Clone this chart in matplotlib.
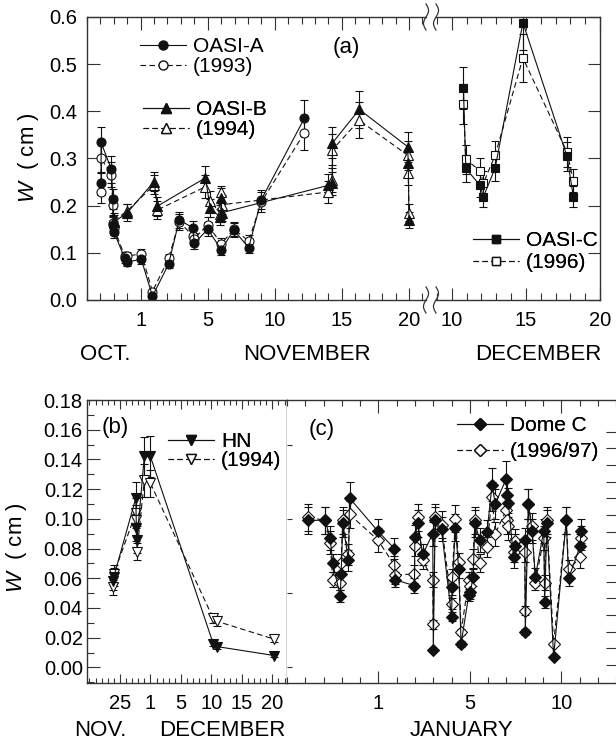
"""
Precipitable water W at OASI-A/B/C, HN and Dome C sites
"""

import numpy as np
import matplotlib
matplotlib.use("Agg")
import matplotlib.pyplot as plt
from matplotlib.lines import Line2D
from matplotlib.ticker import MultipleLocator, FixedLocator, FixedFormatter, FormatStrFormatter

plt.rcParams["font.family"] = ["Liberation Sans", "DejaVu Sans"]
plt.rcParams["mathtext.fontset"] = "custom"
plt.rcParams["mathtext.it"] = "Liberation Sans:italic"
plt.rcParams["mathtext.rm"] = "Liberation Sans"

# ---- panel (a): Oct/Nov part, x = day (major tick "1" sits at 0)
a_days = [-2.95, -2.95, -2.18, -2.08, -2.05, -2.0, -1.18, -1.0, 0.05, 0.88,
          2.08, 2.88, 3.88, 4.0, 5.0, 6.0, 6.95, 8.05, 9.0, 12.2]
a_w = [0.247, 0.334, 0.277, 0.214, 0.159, 0.145, 0.088, 0.081, 0.086, 0.008,
       0.076, 0.170, 0.153, 0.120, 0.150, 0.107, 0.148, 0.111, 0.213, 0.385]
a_err = [0.025, 0.033, 0.028, 0.021, 0.016, 0.014, 0.009, 0.008, 0.009, 0.002,
         0.008, 0.017, 0.015, 0.012, 0.015, 0.011, 0.015, 0.011, 0.021, 0.038]
a_w2 = [0.228, 0.300, 0.266, 0.201, 0.163, 0.152, 0.093, 0.093, 0.098, 0.018,
        0.088, 0.166, 0.136, 0.130, 0.160, 0.119, 0.150, 0.125, 0.208, 0.354]
a_err2 = [0.023, 0.030, 0.027, 0.020, 0.016, 0.015, 0.009, 0.009, 0.010, 0.002,
          0.009, 0.017, 0.014, 0.013, 0.016, 0.012, 0.015, 0.013, 0.021, 0.035]

b_days = [-2.0, -1.0, 1.0, 1.25, 4.83, 5.18, 5.95, 6.0, 6.05, 13.98,
          14.28, 14.3, 16.3, 19.9, 19.95, 20.0]
b_w = [0.165, 0.185, 0.251, 0.199, 0.259, 0.195, 0.175, 0.216, 0.185, 0.243,
       0.247, 0.333, 0.404, 0.325, 0.290, 0.169]
b_err = [0.016, 0.018, 0.020, 0.020, 0.025, 0.019, 0.017, 0.021, 0.018, 0.024,
         0.025, 0.033, 0.040, 0.032, 0.029, 0.017]
b_w2 = [0.168, 0.189, 0.244, 0.191, 0.240, 0.210, 0.183, 0.230, 0.202, 0.229,
        0.254, 0.319, 0.381, 0.307, 0.270, 0.185]
b_err2 = [0.017, 0.015, 0.020, 0.019, 0.024, 0.021, 0.018, 0.012, 0.020, 0.023,
          0.025, 0.032, 0.038, 0.031, 0.027, 0.018]

# ---- panel (a): December part
c_days = [10.79, 10.95, 11.91, 12.14, 12.93, 14.8, 17.77, 18.2]
c_w = [0.450, 0.279, 0.243, 0.219, 0.280, 0.588, 0.305, 0.219]
c_err = [0.045, 0.028, 0.024, 0.022, 0.028, 0.059, 0.031, 0.022]
c_w2 = [0.415, 0.298, 0.274, 0.248, 0.307, 0.513, 0.314, 0.253]
c_err2 = [0.042, 0.030, 0.027, 0.025, 0.031, 0.051, 0.031, 0.025]

# ---- panel (b): HN 1994, x = day (tick "1" of December at 0)
hn_days = [-6.2, -6.0, -2.4, -2.3, -2.2, -1.0, 0.0, 10.3, 10.95, 20.3]
hn_w = [0.058, 0.061, 0.114, 0.094, 0.086, 0.142, 0.142, 0.016, 0.014, 0.008]
hn_err = [0.006, 0.006, 0.011, 0.009, 0.009, 0.013, 0.014, 0.0015, 0.0014, 0.0008]
hn_w2 = [0.054, 0.063, 0.104, 0.099, 0.078, 0.126, 0.124, 0.033, 0.031, 0.019]
hn_err2 = [0.005, 0.006, 0.010, 0.010, 0.006, 0.011, 0.009, 0.003, 0.003, 0.002]

# ---- panel (c): Dome C 1996/97, x = day (tick "1" of January at 0)
dc_days = [-3.83, -2.91, -2.64, -2.50, -2.09, -2.04, -1.95, -1.64, -1.58, -0.05,
           0.87, 0.91, 1.97, 1.99, 2.15, 2.42, 2.97, 3.00, 3.10, 3.45,
           4.00, 4.03, 4.21, 4.39, 4.52, 4.94, 5.03, 5.18, 5.27, 5.54,
           5.94, 6.21, 6.39, 6.99, 7.05, 7.10, 7.39, 7.49, 8.00, 8.03,
           8.20, 8.40, 8.58, 9.04, 9.09, 9.21, 9.58, 10.27, 10.40, 11.04,
           11.06]
dc_w = [0.099, 0.099, 0.087, 0.070, 0.048, 0.063, 0.097, 0.072, 0.114, 0.092,
        0.080, 0.059, 0.055, 0.088, 0.097, 0.076, 0.090, 0.012, 0.099, 0.093,
        0.034, 0.054, 0.094, 0.066, 0.016, 0.049, 0.051, 0.061, 0.097, 0.086,
        0.091, 0.123, 0.110, 0.127, 0.116, 0.111, 0.074, 0.082, 0.086, 0.024,
        0.110, 0.092, 0.061, 0.092, 0.044, 0.097, 0.007, 0.099, 0.060, 0.082,
        0.092]
dc_err = [0.009, 0.009, 0.008, 0.006, 0.004, 0.006, 0.009, 0.007, 0.011, 0.008,
          0.007, 0.005, 0.005, 0.008, 0.009, 0.007, 0.008, 0.001, 0.009, 0.008,
          0.003, 0.005, 0.009, 0.006, 0.002, 0.004, 0.005, 0.006, 0.009, 0.008,
          0.008, 0.011, 0.010, 0.012, 0.011, 0.010, 0.007, 0.008, 0.008, 0.002,
          0.010, 0.008, 0.006, 0.008, 0.004, 0.009, 0.001, 0.009, 0.005, 0.008,
          0.008]
dc_w2 = [0.101, 0.099, 0.084, 0.059, 0.057, 0.070, 0.099, 0.076, 0.103, 0.086,
         0.069, 0.062, 0.063, 0.082, 0.101, 0.072, 0.059, 0.029, 0.101, 0.096,
         0.043, 0.061, 0.100, 0.071, 0.024, 0.059, 0.055, 0.073, 0.099, 0.070,
         0.081, 0.115, 0.090, 0.106, 0.099, 0.095, 0.078, 0.085, 0.078, 0.038,
         0.110, 0.095, 0.057, 0.087, 0.057, 0.099, 0.016, 0.099, 0.066, 0.074,
         0.087]
dc_err2 = [0.009, 0.009, 0.008, 0.005, 0.005, 0.006, 0.009, 0.007, 0.009, 0.008,
           0.006, 0.006, 0.006, 0.007, 0.009, 0.006, 0.005, 0.003, 0.009, 0.009,
           0.004, 0.005, 0.009, 0.006, 0.002, 0.005, 0.005, 0.007, 0.009, 0.006,
           0.007, 0.010, 0.008, 0.010, 0.009, 0.009, 0.007, 0.008, 0.007, 0.003,
           0.010, 0.009, 0.005, 0.008, 0.005, 0.009, 0.001, 0.009, 0.006, 0.007,
           0.008]

INK = "#111111"
DASH = (0, (5, 3))
W, H = 616, 742
TICK_FS = 14.5
TEXT_FS = 16
LEG_FS = 15

fig = plt.figure(figsize=(W / 100, H / 100), dpi=100)


def px_box(x0, y0, x1, y1):
    return [x0 / W, 1 - y1 / H, (x1 - x0) / W, (y1 - y0) / H]


def plot_pair(ax, x, y, e, y2, e2, marker, ms):
    # open marker / dashed first, filled / solid on top
    ax.errorbar(x, y2, yerr=e2, color=INK, ls=DASH, lw=0.8, marker=marker, ms=ms,
                mfc="white", mec=INK, mew=0.8, elinewidth=0.8, capsize=3, capthick=0.8)
    ax.errorbar(x, y, yerr=e, color=INK, ls="-", lw=0.8, marker=marker, ms=ms,
                mfc=INK, mec=INK, mew=0.8, elinewidth=0.8, capsize=3, capthick=0.8)


def add_legend(ax, marker, ms, lab1, lab2, x_px, y_px, spacing):
    h1 = Line2D([], [], color=INK, lw=0.8, marker=marker, ms=ms, mfc=INK, mec=INK)
    h2 = Line2D([], [], color=INK, lw=0.8, ls=DASH, marker=marker, ms=ms, mfc="white", mec=INK)
    leg = ax.legend([h1, h2], [lab1, lab2], loc="upper left",
                    bbox_to_anchor=(x_px / W, 1 - y_px / H), bbox_transform=fig.transFigure,
                    frameon=False, borderpad=0, borderaxespad=0, handlelength=2.2,
                    handletextpad=0.35, labelspacing=spacing, fontsize=LEG_FS, numpoints=1)
    ax.add_artist(leg)


def style(ax):
    for s in ax.spines.values():
        s.set_linewidth(1.0)
        s.set_color("#333333")
    ax.tick_params(which="both", direction="in", width=0.8, color="#333333", labelsize=TICK_FS)


# ---------------- panel (a)
ax1 = fig.add_axes(px_box(87, 17, 426, 300))
ax2 = fig.add_axes(px_box(436, 17, 600, 300))
for ax in (ax1, ax2):
    style(ax)
    ax.set_ylim(0, 0.6)
    ax.yaxis.set_major_locator(MultipleLocator(0.1))
    ax.xaxis.set_minor_locator(MultipleLocator(1))
    ax.tick_params(axis="x", which="both", top=True, pad=8)
    ax.tick_params(which="major", length=9)
    ax.tick_params(which="minor", length=5)

ax1.set_xlim(-4, 21.27)
ax1.spines["right"].set_visible(False)
ax1.xaxis.set_major_locator(FixedLocator([0, 5, 10, 15, 20]))
ax1.xaxis.set_major_formatter(FixedFormatter(["1", "5", "10", "15", "20"]))
ax1.yaxis.set_major_formatter(FormatStrFormatter("%.1f"))
ax1.tick_params(axis="y", pad=7)

ax2.set_xlim(8.94, 20)
ax2.spines["left"].set_visible(False)
ax2.xaxis.set_major_locator(FixedLocator([10, 15, 20]))
ax2.xaxis.set_major_formatter(FixedFormatter(["10", "15", "20"]))
ax2.tick_params(axis="y", left=False, right=True, labelleft=False)

plot_pair(ax1, a_days, a_w, a_err, a_w2, a_err2, "o", 6.5)
plot_pair(ax1, b_days, b_w, b_err, b_w2, b_err2, "^", 6.5)
plot_pair(ax2, c_days, c_w, c_err, c_w2, c_err2, "s", 6)

add_legend(ax1, "o", 6.5, "OASI-A", "(1993)", 140, 37, 0.05)
add_legend(ax1, "^", 6.5, "OASI-B", "(1994)", 143, 100, 0.05)
add_legend(ax2, "s", 6, "OASI-C", "(1996)", 473, 231, 0.15)

ax1.set_ylabel(r"$\mathit{W}$  ( cm )", fontsize=TEXT_FS)
ax1.yaxis.set_label_coords(41 / W, 1 - 158 / H, transform=fig.transFigure)

# axis break squiggles
t = np.linspace(-1, 1, 40)
for xb in (426, 436):
    for yb in (17, 300):
        xs = (xb - 2.5 * np.sin(np.pi * t)) / W
        ys = 1 - (yb + 13 * t) / H
        fig.add_artist(Line2D(xs, ys, color="#333333", lw=0.9))

fig.text(346 / W, 1 - 47 / H, "(a)", fontsize=TEXT_FS, ha="center", va="center")
for label, xc in (("OCT.", 105), ("NOVEMBER", 307), ("DECEMBER", 538)):
    fig.text(xc / W, 1 - 354 / H, label, fontsize=TEXT_FS, ha="center", va="center")

# ---------------- panel (b)
ax3 = fig.add_axes(px_box(87, 400, 287, 683))
style(ax3)
ax3.set_xlim(-10.4, 22.4)
ax3.set_ylim(-0.0105, 0.18)
ax3.xaxis.set_major_locator(FixedLocator([-5, 0, 5, 10, 15, 20]))
ax3.xaxis.set_major_formatter(FixedFormatter(["25", "1", "5", "10", "15", "20"]))
ax3.xaxis.set_minor_locator(MultipleLocator(1))
ax3.yaxis.set_major_locator(MultipleLocator(0.02))
ax3.yaxis.set_minor_locator(MultipleLocator(0.01))
ax3.yaxis.set_major_formatter(FormatStrFormatter("%.2f"))
ax3.tick_params(axis="x", which="both", top=True, pad=8)
ax3.tick_params(axis="x", which="major", length=6.5)
ax3.tick_params(axis="x", which="minor", length=3.5)
ax3.tick_params(axis="y", which="major", length=9, pad=3)
ax3.tick_params(axis="y", which="minor", length=5)

plot_pair(ax3, hn_days, hn_w, hn_err, hn_w2, hn_err2, "v", 6.5)
add_legend(ax3, "v", 6.5, "HN", "(1994)", 168, 432, 0.0)

ax3.set_ylabel(r"$\mathit{W}$  ( cm )", fontsize=TEXT_FS)
ax3.yaxis.set_label_coords(29 / W, 1 - 548 / H, transform=fig.transFigure)
fig.text(115 / W, 1 - 428 / H, "(b)", fontsize=TEXT_FS, ha="center", va="center")

# ---------------- panel (c)
ax4 = fig.add_axes(px_box(287, 400, 618, 683))
style(ax4)
ax4.spines["left"].set_visible(False)
ax4.set_xlim(-5, 13.1)
ax4.set_ylim(-0.0105, 0.18)
ax4.xaxis.set_major_locator(FixedLocator([0, 5, 10]))
ax4.xaxis.set_major_formatter(FixedFormatter(["1", "5", "10"]))
ax4.xaxis.set_minor_locator(MultipleLocator(1))
ax4.tick_params(axis="x", which="both", top=True, pad=8)
ax4.tick_params(axis="x", which="major", length=9)
ax4.tick_params(axis="x", which="minor", length=4.5)
ax4.tick_params(axis="y", which="both", left=False, labelleft=False)

# right-hand ticks of (c) sit on their own spacing in the original
tw = ax4.twinx()
for s in tw.spines.values():
    s.set_visible(False)
tw.set_ylim(-1.08, 15.9)
tw.yaxis.set_major_locator(FixedLocator(range(15)))
tw.tick_params(axis="y", direction="in", length=9, width=0.8, color="#333333", labelright=False)

plot_pair(ax4, dc_days, dc_w, dc_err, dc_w2, dc_err2, "D", 6)
add_legend(ax4, "D", 6, "Dome C", "(1996/97)", 457, 416, 0.35)
fig.text(322 / W, 1 - 429 / H, "(c)", fontsize=TEXT_FS, ha="center", va="center")

for label, xc in (("NOV.", 100), ("DECEMBER", 222), ("JANUARY", 462)):
    fig.text(xc / W, 1 - 730 / H, label, fontsize=TEXT_FS, ha="center", va="center")

fig.savefig("out.png", dpi=100, facecolor="white")
